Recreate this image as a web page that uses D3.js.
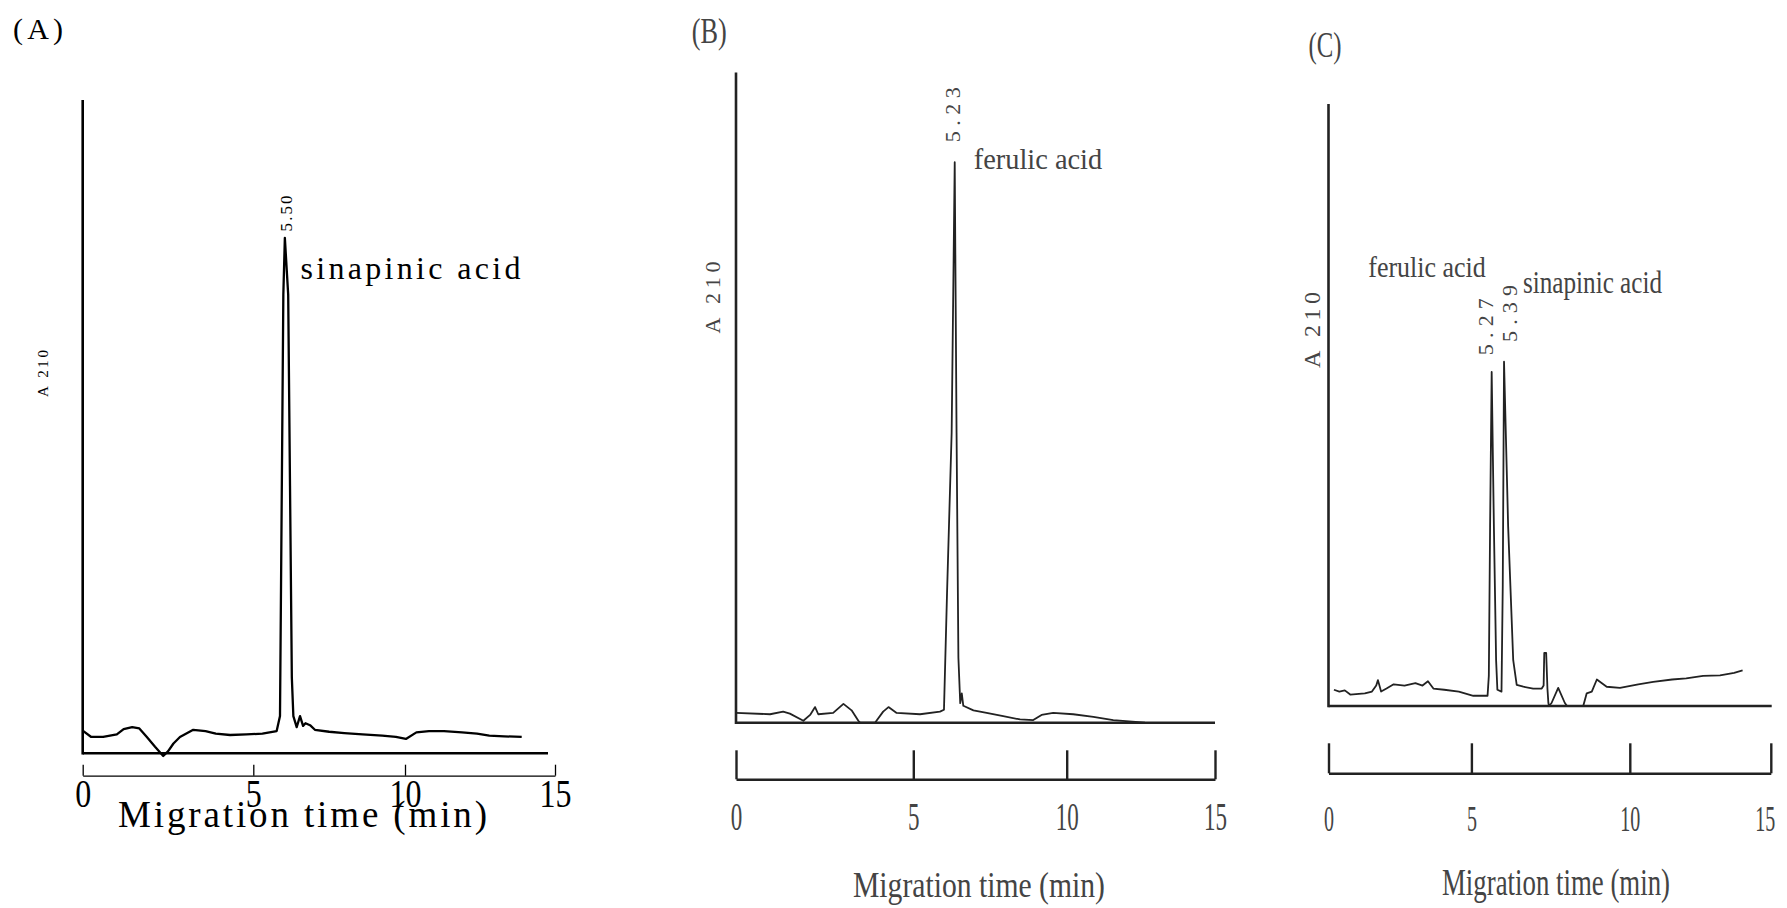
<!DOCTYPE html>
<html><head><meta charset="utf-8">
<script src="https://cdn.jsdelivr.net/npm/d3@7"></script>
<style>body{margin:0;background:#fff} svg{display:block}</style>
</head><body>
<svg id="chart" width="1787" height="908"></svg>
<script>
// ---------------- data ----------------
const tickValues = [0, 5, 10, 15];
const tickLabels = ["0", "5", "10", "15"];
const axisTitle = "Migration time (min)";
const yTitle = "A 210";
const panelLetters = ["(A)", "(B)", "(C)"];

// Panel A: sinapinic acid standard
const timeA = [0.02, 0.25, 0.6, 1.0, 1.2, 1.45, 1.66, 1.88, 2.12, 2.36, 2.5, 2.66, 2.85, 3.24, 3.6, 3.9, 4.32, 4.8, 5.3, 5.77, 5.88, 5.94, 5.99, 6.04, 6.15, 6.21, 6.27, 6.32, 6.43, 6.54, 6.64, 6.72, 6.87, 7.03, 7.5, 8.0, 8.6, 9.25, 9.7, 10.03, 10.38, 10.8, 11.3, 11.9, 12.4, 12.81, 13.3, 13.89];
const signalA = [3.4, 2.5, 2.5, 2.9, 3.7, 4.0, 3.8, 2.5, 1.0, -0.4, 0.3, 1.5, 2.5, 3.6, 3.4, 3.0, 2.8, 2.9, 3.0, 3.4, 5.7, 40.9, 70.2, 78.9, 70.2, 40.9, 11.6, 5.7, 4.0, 5.7, 4.2, 4.6, 4.3, 3.6, 3.3, 3.1, 2.9, 2.7, 2.5, 2.2, 3.2, 3.4, 3.4, 3.2, 3.0, 2.7, 2.6, 2.5];

// Panel B: ferulic acid standard
const timeB = [0, 0.96, 1.33, 1.52, 1.9, 2.09, 2.23, 2.32, 2.74, 3.03, 3.26, 3.45, 3.5, 3.92, 4.15, 4.3, 4.53, 5.22, 5.87, 6.0, 6.1, 6.25, 6.35, 6.41, 6.47, 6.53, 6.58, 6.63, 6.96, 7.39, 7.93, 8.48, 8.91, 9.18, 9.56, 10.22, 10.9, 11.57, 12.64];
const signalB = [1.5, 1.3, 1.7, 1.4, 0.3, 1.2, 2.4, 1.3, 1.5, 2.9, 1.9, 0.3, 0, 0, 1.7, 2.4, 1.5, 1.3, 1.7, 2.0, 20, 44.6, 86.2, 44.6, 10, 3.0, 4.5, 2.6, 1.9, 1.5, 1.0, 0.5, 0.4, 1.2, 1.5, 1.3, 0.9, 0.4, 0];

// Panel C: mixture
const timeC = [0.19, 0.38, 0.57, 0.76, 1.27, 1.52, 1.67, 1.73, 1.84, 2.03, 2.28, 2.66, 3.04, 3.29, 3.48, 3.67, 4.05, 4.56, 5.06, 5.51, 5.55, 5.59, 5.64, 5.71, 5.78, 5.82, 5.95, 5.99, 6.03, 6.16, 6.32, 6.43, 6.64, 6.95, 7.22, 7.28, 7.30, 7.36, 7.40, 7.43, 7.45, 7.53, 7.74, 7.95, 8.02, 8.53, 8.64, 8.8, 8.96, 9.27, 9.69, 10.3, 10.83, 11.5, 12.0, 12.6, 13.2, 13.7, 14.0];
const signalC = [2.7, 2.4, 2.6, 1.9, 2.1, 2.4, 3.4, 4.3, 2.4, 2.9, 3.6, 3.4, 3.8, 3.4, 4.1, 2.9, 2.7, 2.4, 1.7, 1.7, 5.0, 29.8, 55.5, 29.8, 7.6, 2.7, 2.4, 20, 57.2, 29.8, 7.6, 3.5, 3.2, 2.9, 2.9, 3.4, 8.8, 8.8, 2.9, 0.5, 0, 0.5, 3.0, 0.5, 0, 0, 2.1, 2.4, 4.4, 3.2, 3.0, 3.6, 4.0, 4.4, 4.6, 5.0, 5.1, 5.5, 5.9];

const peakTimesA = [6.04], peakLabelsA = ["5.50"];
const peakTimesB = [6.35], peakLabelsB = ["5.23"];
const peakTimesC = [5.64, 6.03], peakLabelsC = ["5.27", "5.39"];
const compoundsA = ["sinapinic acid"];
const compoundsB = ["ferulic acid"];
const compoundsC = ["ferulic acid", "sinapinic acid"];

// ---------------- layout ----------------
const FONT = "'Liberation Serif', 'DejaVu Serif', serif";
const panels = [
  { letter: panelLetters[0], time: timeA, signal: signalA, peaks: peakTimesA, peakLabels: peakLabelsA, compounds: compoundsA,
    xRange: [82.7, 253.3, 405, 555], xAxisEnd: 548, yTop: 100, yBottom: 753.3,
    barY: 775.7, tickLen: 11, barWidth: 1.3, axisWidth: 2.6, lineWidth: 2.3, ink: "#000", textInk: "#000",
    tickFont: 40, tickCharW: 16, tickBaseline: 31.3, lastTickDx: 0, adjust: "spacing",
    title: { x: 302.5, y: 826.7, size: 37, len: 369 },
    letterPos: { x: 13, y: 39, size: 30, len: 50 },
    yLab: { x: 48, y: 373.5, size: 15, len: 47 },
    peakLab: [{ dx: 7, dy: 6.4, size: 17, len: 36 }],
    compLab: [{ x: 300.4, y: 278.5, size: 32, len: 220 }] },
  { letter: panelLetters[1], time: timeB, signal: signalB, peaks: peakTimesB, peakLabels: peakLabelsB, compounds: compoundsB,
    xRange: [736, 913.3, 1066.7, 1215], xAxisEnd: 1215, yTop: 72.4, yBottom: 722.7,
    barY: 779.3, tickLen: 29, barWidth: 2.4, axisWidth: 2.6, lineWidth: 1.8, ink: "#222", textInk: "#444",
    tickFont: 40, tickCharW: 11.5, tickBaseline: 50.7, lastTickDx: 0, adjust: "spacingAndGlyphs",
    title: { x: 979, y: 897, size: 36, len: 252 },
    letterPos: { x: 691.7, y: 43, size: 35, len: 35 },
    yLab: { x: 720, y: 297.5, size: 22, len: 72 },
    peakLab: [{ dx: 5.5, dy: 20, size: 22, len: 55 }],
    compLab: [{ x: 973.7, y: 169, size: 29, len: 128.5 }] },
  { letter: panelLetters[2], time: timeC, signal: signalC, peaks: peakTimesC, peakLabels: peakLabelsC, compounds: compoundsC,
    xRange: [1328.5, 1471.4, 1629.8, 1770.8], xAxisEnd: 1771.7, yTop: 104, yBottom: 706,
    barY: 773.3, tickLen: 30, barWidth: 2.4, axisWidth: 2.6, lineWidth: 1.8, ink: "#222", textInk: "#444",
    tickFont: 36, tickCharW: 10, tickBaseline: 58, lastTickDx: -6, adjust: "spacingAndGlyphs",
    title: { x: 1556, y: 895, size: 37, len: 228 },
    letterPos: { x: 1308.6, y: 56.5, size: 35, len: 33 },
    yLab: { x: 1319.5, y: 330, size: 24, len: 76 },
    peakLab: [{ dx: 1.3, dy: 16.7, size: 22, len: 57 }, { dx: 13, dy: 19.7, size: 22, len: 57 }],
    compLab: [{ x: 1368.3, y: 276.8, size: 30, len: 117.5 }, { x: 1523, y: 293.3, size: 31, len: 139 }] }
];

const svg = d3.select("#chart");

panels.forEach(p => {
  const g = svg.append("g");
  const xs = d3.scaleLinear().domain(tickValues).range(p.xRange);
  const ys = d3.scaleLinear().domain([0, 100]).range([p.yBottom, p.yTop]);

  // y axis line
  g.append("line")
    .attr("x1", xs(0)).attr("x2", xs(0))
    .attr("y1", ys(0) + p.axisWidth / 2).attr("y2", ys(100))
    .attr("stroke", p.ink).attr("stroke-width", p.axisWidth);
  // x baseline
  g.append("line")
    .attr("x1", xs(0)).attr("x2", p.xAxisEnd)
    .attr("y1", ys(0)).attr("y2", ys(0))
    .attr("stroke", p.ink).attr("stroke-width", p.axisWidth);

  // tick bar (time axis)
  const axis = d3.axisBottom(xs).tickValues(tickValues)
    .tickFormat((d, i) => tickLabels[i]).tickSizeInner(-p.tickLen).tickSizeOuter(0);
  const ag = g.append("g").attr("transform", `translate(0,${p.barY})`).call(axis);
  ag.select(".domain").attr("stroke", p.ink).attr("stroke-width", p.barWidth);
  ag.selectAll(".tick line").attr("stroke", p.ink).attr("stroke-width", p.barWidth);
  ag.selectAll(".tick text")
    .attr("y", p.tickBaseline).attr("dy", null)
    .attr("x", (d, i) => i === tickValues.length - 1 ? p.lastTickDx : 0)
    .attr("fill", p.textInk)
    .style("font-family", FONT).style("font-size", p.tickFont + "px")
    .attr("textLength", d => String(tickLabels[tickValues.indexOf(d)]).length * p.tickCharW)
    .attr("lengthAdjust", "spacingAndGlyphs");

  // trace
  const pts = p.time.map((t, i) => [t, p.signal[i]]);
  g.append("path").datum(pts)
    .attr("fill", "none").attr("stroke", p.ink).attr("stroke-width", p.lineWidth)
    .attr("stroke-linejoin", "round")
    .attr("d", d3.line().x(d => xs(d[0])).y(d => ys(d[1])));

  // panel letter
  g.append("text").text(p.letter)
    .attr("x", p.letterPos.x).attr("y", p.letterPos.y)
    .attr("fill", p.textInk).style("font-family", FONT).style("font-size", p.letterPos.size + "px")
    .attr("textLength", p.letterPos.len).attr("lengthAdjust", p.adjust);

  // axis title
  g.append("text").text(axisTitle)
    .attr("x", p.title.x).attr("y", p.title.y).attr("text-anchor", "middle")
    .attr("fill", p.textInk).style("font-family", FONT).style("font-size", p.title.size + "px")
    .attr("textLength", p.title.len).attr("lengthAdjust", p.adjust);

  // y title
  g.append("text").text(yTitle)
    .attr("transform", `translate(${p.yLab.x},${p.yLab.y}) rotate(-90)`)
    .attr("text-anchor", "middle")
    .attr("fill", p.textInk).style("font-family", FONT).style("font-size", p.yLab.size + "px")
    .attr("textLength", p.yLab.len).attr("lengthAdjust", "spacing");

  // peak retention-time labels
  p.peaks.forEach((t, i) => {
    let best = 0;
    p.time.forEach((tt, j) => { if (Math.abs(tt - t) < Math.abs(p.time[best] - t)) best = j; });
    const lab = p.peakLab[i];
    g.append("text").text(p.peakLabels[i])
      .attr("transform", `translate(${xs(t) + lab.dx},${ys(p.signal[best]) - lab.dy}) rotate(-90)`)
      .attr("fill", p.textInk).style("font-family", FONT).style("font-size", lab.size + "px")
      .attr("textLength", lab.len).attr("lengthAdjust", "spacing");
  });

  // compound names
  p.compounds.forEach((c, i) => {
    const lab = p.compLab[i];
    g.append("text").text(c)
      .attr("x", lab.x).attr("y", lab.y)
      .attr("fill", p.textInk).style("font-family", FONT).style("font-size", lab.size + "px")
      .attr("textLength", lab.len).attr("lengthAdjust", p.adjust);
  });
});
</script>
</body></html>
